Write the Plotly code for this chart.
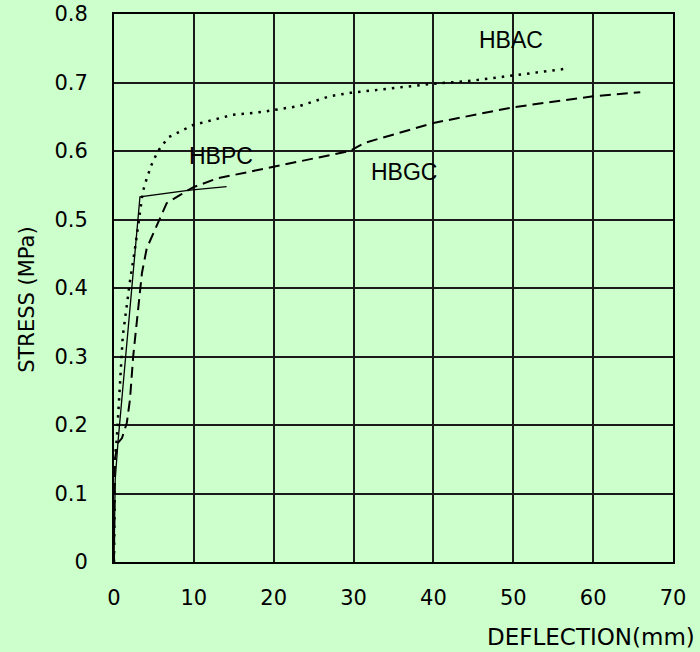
import plotly.graph_objects as go

hbac_x = [0, 0.05, 0.1, 0.35, 0.75, 1.1, 2.0, 2.6, 3.6, 4.1, 4.7, 5.5, 6.8, 9.9, 14.9, 18.5, 23.3, 27, 29.6, 35, 39.8, 45, 50, 56.5]
hbac_y = [0, 0.10, 0.15, 0.18, 0.26, 0.33, 0.41, 0.455, 0.54, 0.56, 0.58, 0.60, 0.62, 0.638, 0.653, 0.657, 0.666, 0.68, 0.685, 0.692, 0.698, 0.703, 0.71, 0.72]

hbpc_x = [0, 0.05, 0.15, 0.5, 3.25, 9.5, 14.1]
hbpc_y = [0, 0.10, 0.12, 0.175, 0.533, 0.543, 0.548]

hbgc_x = [0, 0.1, 0.5, 1.0, 1.6, 2.0, 2.4, 2.9, 3.5, 4.1, 4.9, 5.8, 6.6, 8.3, 9.9, 12.9, 17.9, 23.3, 29.5, 31.4, 33.7, 40, 50, 60, 65.9]
hbgc_y = [0, 0.15, 0.174, 0.181, 0.203, 0.237, 0.30, 0.358, 0.422, 0.458, 0.480, 0.504, 0.524, 0.536, 0.547, 0.560, 0.572, 0.585, 0.600, 0.612, 0.620, 0.641, 0.664, 0.680, 0.686]

series_labels = ["HBAC", "HBPC", "HBGC"]
label_x = [49.7, 13.4, 36.3]
label_y = [0.762, 0.593, 0.569]

x_ticks = [0, 10, 20, 30, 40, 50, 60, 70]
y_ticks = [0, 0.1, 0.2, 0.3, 0.4, 0.5, 0.6, 0.7, 0.8]
y_tick_text = ["0", "0.1", "0.2", "0.3", "0.4", "0.5", "0.6", "0.7", "0.8"]

BG = "#CCFFCC"
tick_font = dict(family="DejaVu Sans, sans-serif", size=21, color="black")
title_font = dict(family="DejaVu Sans, sans-serif", size=23, color="black")

fig = go.Figure()
fig.add_trace(go.Scatter(x=hbac_x, y=hbac_y, mode="lines",
                         line=dict(color="black", width=2.5, dash="2.5px,6px"), name="HBAC"))
fig.add_trace(go.Scatter(x=hbgc_x, y=hbgc_y, mode="lines",
                         line=dict(color="black", width=2, dash="11px,6px"), name="HBGC"))
fig.add_trace(go.Scatter(x=hbpc_x, y=hbpc_y, mode="lines",
                         line=dict(color="black", width=1.3), name="HBPC"))

for t, lx, ly in zip(series_labels, label_x, label_y):
    fig.add_annotation(x=lx, y=ly, text=t, showarrow=False,
                       font=dict(family="Liberation Sans, Arial", size=23, color="black"))

fig.add_annotation(xref="paper", yref="paper", x=1.043, y=-0.137, xanchor="right", yanchor="middle",
                   text="DEFLECTION(mm)", showarrow=False, font=title_font)
fig.add_annotation(xref="paper", yref="paper", x=-0.156, y=0.478, xanchor="center", yanchor="middle",
                   text="STRESS (MPa)", textangle=-90, showarrow=False, font=tick_font)

fig.update_xaxes(range=[0, 70], tickvals=x_ticks, showgrid=True, gridcolor="#1a1a1a", gridwidth=1.5,
                 showline=True, linecolor="black", linewidth=2, mirror=True, zeroline=False, automargin=False,
                 ticks="outside", ticklen=0, ticklabelstandoff=16, tickfont=tick_font, fixedrange=True)
fig.update_yaxes(range=[0, 0.8001], tickvals=y_ticks, ticktext=y_tick_text, showgrid=True, gridcolor="#1a1a1a",
                 gridwidth=1.5, showline=True, linecolor="black", linewidth=2, mirror=True, zeroline=False,
                 automargin=False,
                 ticks="outside", ticklen=0, ticklabelstandoff=20, tickfont=tick_font, fixedrange=True)

fig.update_layout(width=700, height=652, paper_bgcolor=BG, plot_bgcolor=BG,
                  margin=dict(l=114, r=27, t=14, b=90, autoexpand=False), showlegend=False)

fig.write_html("out.html", config={"displayModeBar": False},
               post_script="document.body.style.margin='0';document.body.style.overflow='hidden';")
